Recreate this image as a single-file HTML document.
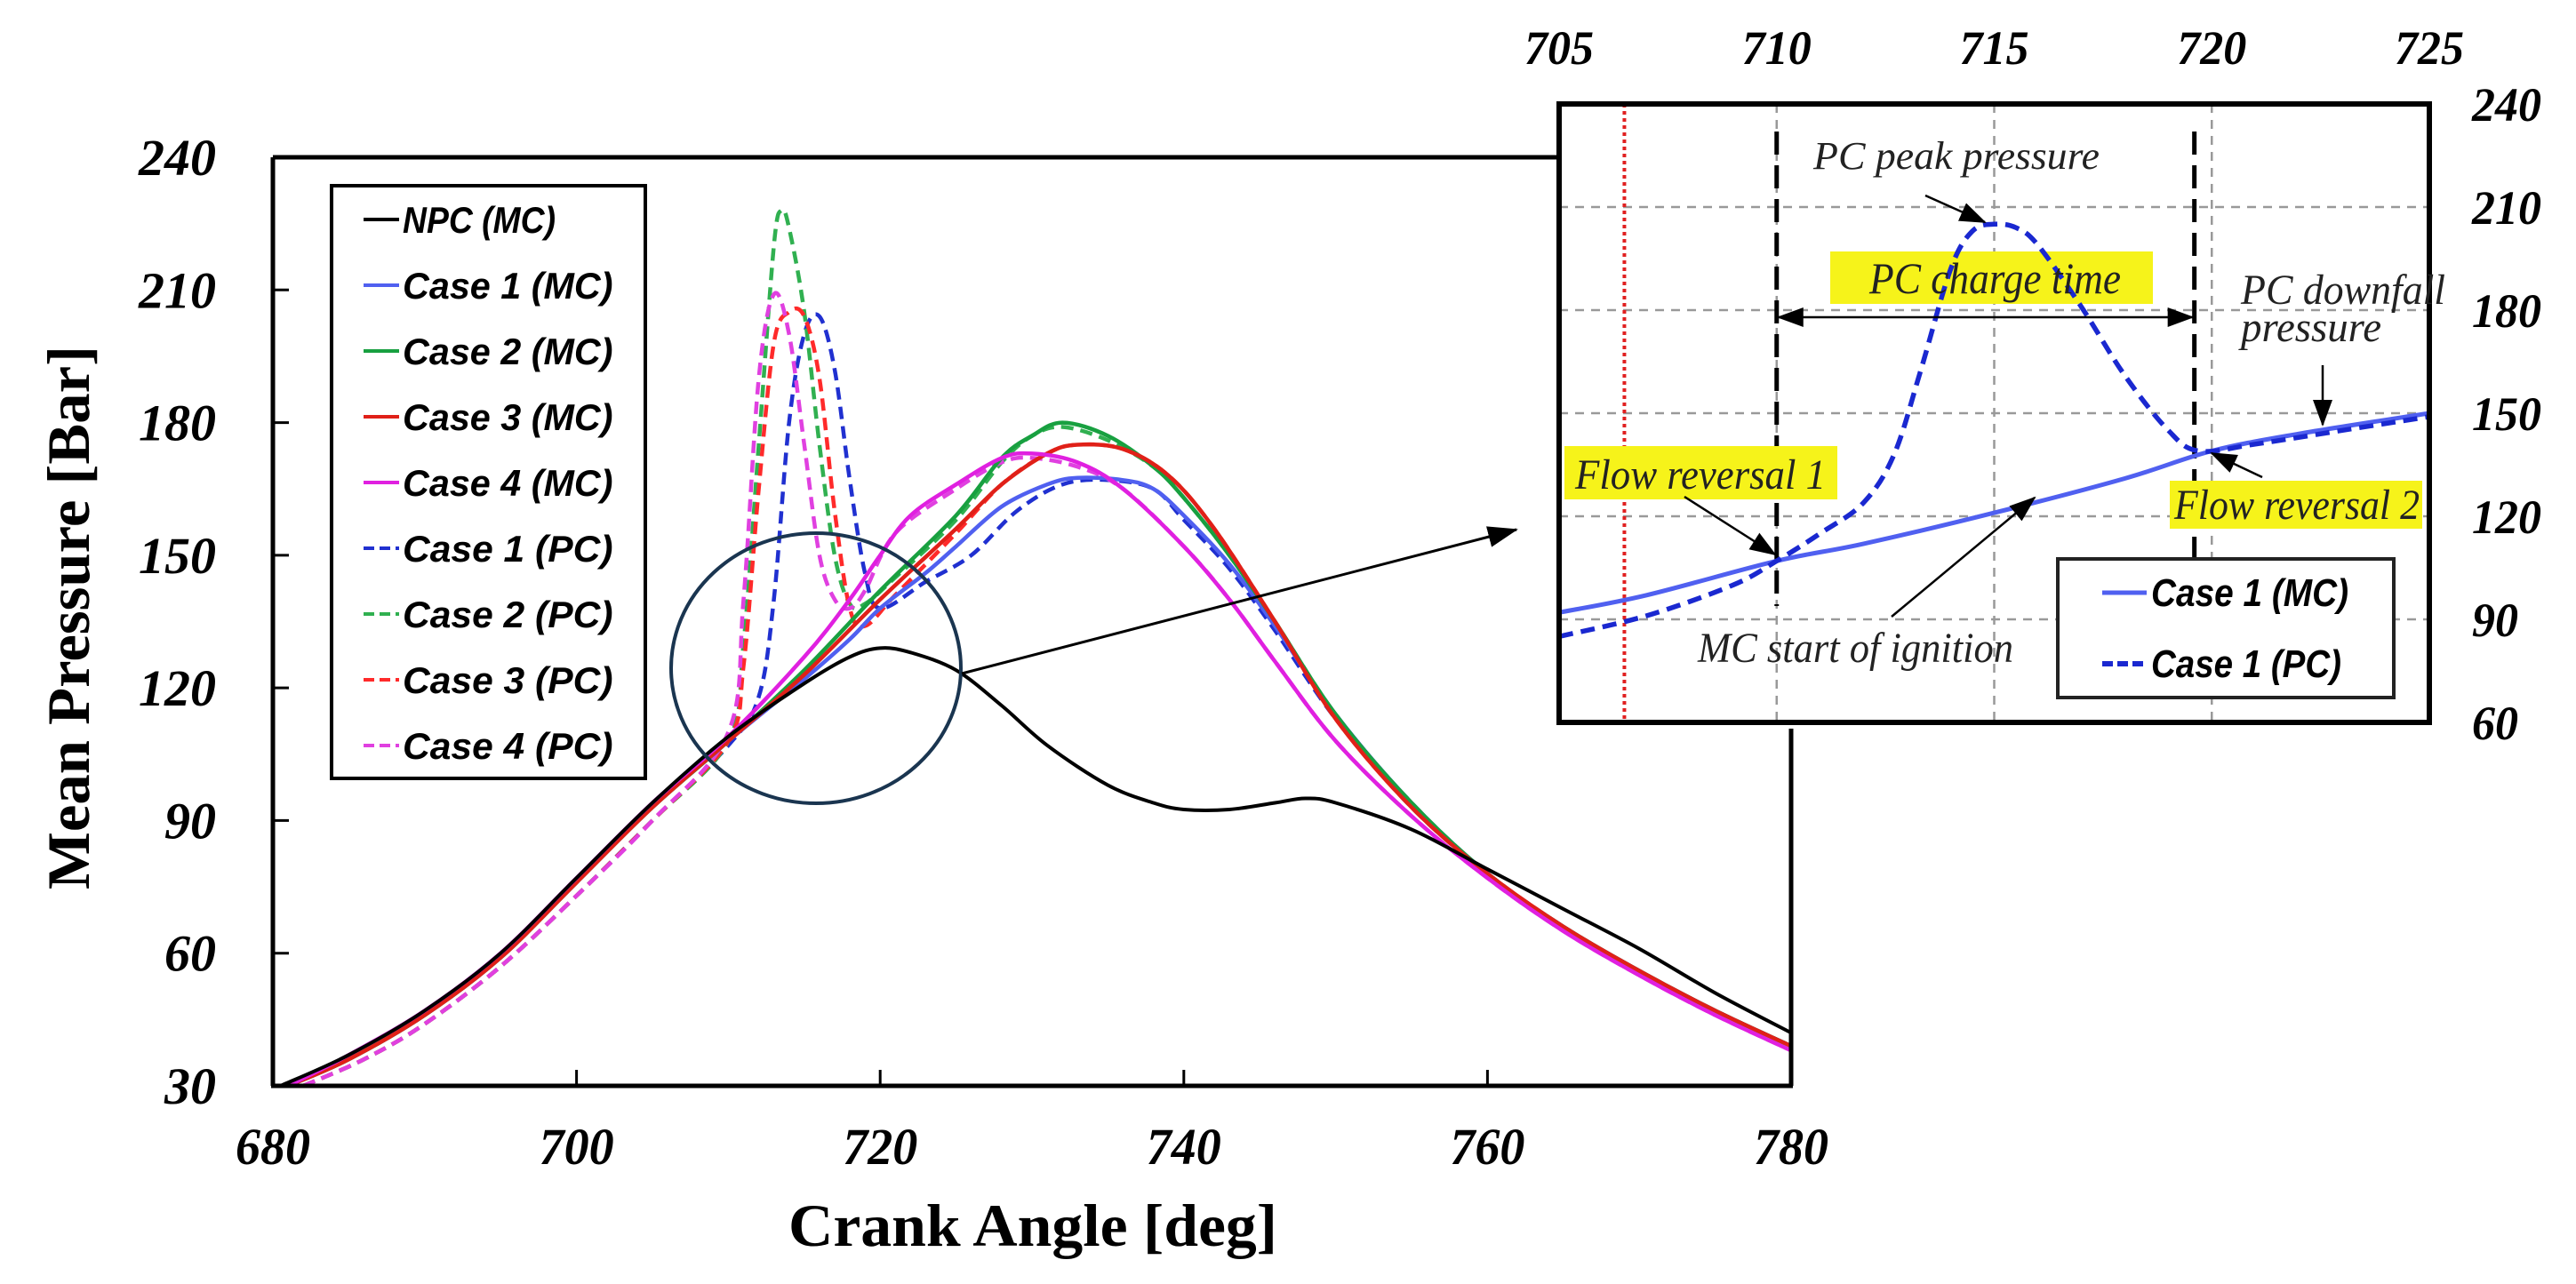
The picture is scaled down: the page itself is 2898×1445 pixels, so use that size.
<!DOCTYPE html>
<html><head><meta charset="utf-8"><title>Mean Pressure vs Crank Angle</title>
<style>
html,body{margin:0;padding:0;background:#fff;}
svg{display:block;}
.tick{font-family:"Liberation Serif",serif;font-weight:bold;font-style:italic;}
.leg{font-family:"Liberation Sans",sans-serif;font-weight:bold;font-style:italic;}
.ann{font-family:"Liberation Serif",serif;font-style:italic;fill:#222;}
</style></head>
<body>
<svg id="chart" width="2898" height="1445" viewBox="0 0 2898 1445" xmlns="http://www.w3.org/2000/svg">
<defs>
<marker id="ah" markerWidth="10" markerHeight="10" refX="9" refY="5" orient="auto" markerUnits="userSpaceOnUse" viewBox="0 0 10 10"><path d="M0,1 L10,5 L0,9 z" fill="#000"/></marker>
<marker id="ahb" markerWidth="34" markerHeight="28" refX="32" refY="14" orient="auto" markerUnits="userSpaceOnUse"><path d="M0,2 L34,14 L0,26 z" fill="#000"/></marker>
<marker id="ahs" markerWidth="30" markerHeight="24" refX="28" refY="12" orient="auto" markerUnits="userSpaceOnUse"><path d="M0,1 L30,12 L0,23 z" fill="#000"/></marker>
<marker id="ahsr" markerWidth="30" markerHeight="24" refX="2" refY="12" orient="auto" markerUnits="userSpaceOnUse"><path d="M30,1 L0,12 L30,23 z" fill="#000"/></marker>
</defs>
<g id="main"></g>
<g id="inset"></g>
</svg>
<script>
// ---------- main chart data ----------
const xTicks = [680, 700, 720, 740, 760, 780];
const yTicks = [30, 60, 90, 120, 150, 180, 210, 240];
const legendLabels = ["NPC (MC)", "Case 1 (MC)", "Case 2 (MC)", "Case 3 (MC)", "Case 4 (MC)", "Case 1 (PC)", "Case 2 (PC)", "Case 3 (PC)", "Case 4 (PC)"];
const seriesColors = ["#000000", "#5060f0", "#18a040", "#e02018", "#e020e0", "#2030d0", "#30b050", "#ff2a2a", "#e040e0"];
const seriesDashed = [false, false, false, false, false, true, true, true, true];

const npcX = [680.5, 685, 690, 695, 700, 705, 710, 715, 718, 720, 722, 725, 728, 731, 735, 738, 740, 743, 746, 748, 750, 755, 760, 765, 770, 775, 780];
const npcY = [30, 37, 47, 60, 77, 94, 109, 121, 127, 129, 128, 124, 116, 107, 98, 94, 92.5, 92.5, 94, 95, 94, 88, 79, 70, 61, 51, 42];

const case1McX = [681, 685, 690, 695, 700, 705, 710, 715, 718, 720, 723, 725, 728, 731, 733, 736, 738, 740, 743, 746, 750, 755, 760, 765, 770, 775, 780];
const case1McY = [30, 36, 46, 59, 76, 93, 108, 122, 131, 138, 146, 152, 161, 166, 167.5, 167, 165, 159, 148, 134, 114, 94, 78, 66, 56, 47, 39];
const case2McX = [681, 685, 690, 695, 700, 705, 710, 715, 720, 725, 728, 730, 732, 735, 738, 740, 743, 746, 750, 755, 760, 765, 770, 775, 780];
const case2McY = [30, 36, 46, 59, 76, 93, 108, 124, 142, 159, 172, 177, 180, 177, 170, 163, 150, 135, 114, 94, 78, 66, 56, 47, 39];
const case3McX = [681, 685, 690, 695, 700, 705, 710, 715, 720, 725, 728, 731, 733, 736, 739, 742, 746, 750, 755, 760, 765, 770, 775, 780];
const case3McY = [30, 36, 46, 59, 76, 93, 108, 123, 140, 156, 166, 173, 175, 174, 168, 156, 135, 113, 93, 78, 66, 56, 47, 39];
const case4McX = [681, 685, 690, 695, 700, 705, 710, 715, 718, 720, 722, 725, 728, 730, 733, 736, 740, 743, 746, 750, 755, 760, 765, 770, 775, 780];
const case4McY = [30, 37, 47, 60, 77, 94, 109, 127, 140, 150, 159, 166, 172, 173, 171, 165, 152, 140, 126, 108, 91, 77, 65, 55, 46, 38];

const case1PcX = [682, 686, 690, 695, 700, 705, 710, 712, 713, 714, 715, 716, 717, 718, 719, 720, 723, 726, 729, 732, 735, 738, 740, 743, 746, 750, 755, 760, 765, 770, 775, 780];
const case1PcY = [30, 36, 44, 57, 73, 90, 107, 118, 140, 180, 200, 204, 192, 167, 146, 138, 144, 150, 160, 166, 167, 165, 158, 147, 133, 113, 93, 78, 66, 56, 47, 39];
const case2PcX = [682, 686, 690, 695, 700, 705, 710, 711, 712, 713, 713.5, 714, 715, 716, 717, 718, 719, 721, 725, 728, 730, 732, 735, 738, 740, 743, 746, 750, 755, 760, 765, 770, 775, 780];
const case2PcY = [30, 36, 44, 57, 73, 90, 108, 130, 175, 220, 228, 224, 205, 175, 150, 139, 139, 145, 158, 171, 177, 179, 176, 170, 163, 150, 135, 114, 94, 78, 66, 56, 47, 39];
const case3PcX = [682, 686, 690, 695, 700, 705, 710, 711, 712, 713, 714, 715, 716, 717, 718, 719, 721, 725, 728, 731, 733, 736, 739, 742, 746, 750, 755, 760, 765, 770, 775, 780];
const case3PcY = [30, 36, 44, 57, 73, 90, 108, 125, 165, 198, 205, 204, 190, 160, 138, 134, 141, 155, 166, 173, 175, 174, 168, 156, 135, 113, 93, 78, 66, 56, 47, 39];
const case4PcX = [682, 686, 690, 695, 700, 705, 710, 711, 712, 713, 714, 715, 716, 717, 718, 719, 721, 725, 728, 730, 733, 736, 740, 743, 746, 750, 755, 760, 765, 770, 775, 780];
const case4PcY = [30, 36, 44, 57, 73, 90, 110, 140, 190, 209, 200, 175, 150, 140, 138, 142, 155, 165, 171, 172, 170, 165, 152, 140, 126, 108, 91, 77, 65, 55, 46, 38];

const seriesX = [npcX, case1McX, case2McX, case3McX, case4McX, case1PcX, case2PcX, case3PcX, case4PcX];
const seriesY = [npcY, case1McY, case2McY, case3McY, case4McY, case1PcY, case2PcY, case3PcY, case4PcY];

// ---------- inset data ----------
const insetXTicks = [705, 710, 715, 720, 725];
const insetYTicks = [60, 90, 120, 150, 180, 210, 240];
const insetGridX = [710, 715, 720];
const insetGridY = [90, 120, 150, 180, 210];
const insetMcX = [705, 707, 710, 712, 715, 718, 720, 722, 725];
const insetMcY = [92, 97, 107, 112, 121, 131, 139, 144, 150];
const insetPcX = [705, 707, 709, 710, 711, 712, 712.7, 713.3, 714, 714.5, 715, 715.5, 716, 717, 718, 719, 719.7, 721, 723, 725];
const insetPcY = [85, 91, 100, 107, 115, 124, 138, 162, 192, 203, 205, 204, 199, 181, 161, 145, 139, 141, 145, 149];
const sparkTiming = 706.5;
const chargeStart = 710;
const chargeEnd = 719.6;

const NS = "http://www.w3.org/2000/svg";
function mk(tag, attrs, parent, txt) {
  const e = document.createElementNS(NS, tag);
  for (const k in attrs) e.setAttribute(k, attrs[k]);
  if (txt !== undefined) e.textContent = txt;
  parent.appendChild(e);
  return e;
}
function smoothPath(pts) {
  let d = "M" + pts[0][0].toFixed(1) + "," + pts[0][1].toFixed(1);
  for (let i = 0; i < pts.length - 1; i++) {
    const p0 = pts[i - 1] || pts[i], p1 = pts[i], p2 = pts[i + 1], p3 = pts[i + 2] || p2;
    const c1x = p1[0] + (p2[0] - p0[0]) / 6, c1y = p1[1] + (p2[1] - p0[1]) / 6;
    const c2x = p2[0] - (p3[0] - p1[0]) / 6, c2y = p2[1] - (p3[1] - p1[1]) / 6;
    d += " C" + c1x.toFixed(1) + "," + c1y.toFixed(1) + " " + c2x.toFixed(1) + "," + c2y.toFixed(1) + " " + p2[0].toFixed(1) + "," + p2[1].toFixed(1);
  }
  return d;
}

// main axes
const PL = 307, PR = 2015, PT = 177, PB = 1222;
const X0 = 680, X1 = 780, Y0 = 30, Y1 = 240;
const sx = v => PL + (v - X0) / (X1 - X0) * (PR - PL);
const sy = v => PB - (v - Y0) / (Y1 - Y0) * (PB - PT);
const main = document.getElementById("main");

// clip
const defs = document.querySelector("defs");
const cp = mk("clipPath", { id: "mainclip" }, defs);
mk("rect", { x: PL, y: PT, width: PR - PL, height: PB - PT }, cp);

const linesG = mk("g", { "clip-path": "url(#mainclip)" }, main);


// draw MC first then PC, keep order similar to picture
const drawOrder = [5, 6, 7, 8, 1, 2, 3, 4, 0];
drawOrder.forEach(i => {
  const pts = seriesX[i].map((x, j) => [sx(x), sy(seriesY[i][j])]);
  const p = mk("path", { d: smoothPath(pts), fill: "none", stroke: seriesColors[i], "stroke-width": i === 0 ? 4 : 4.5, "stroke-linejoin": "round" }, linesG);
  if (seriesDashed[i]) p.setAttribute("stroke-dasharray", "14 8");
  
  
});

// axes frame
const axL = mk("line", { x1: PL, y1: PT, x2: PL, y2: PB, stroke: "#000", "stroke-width": 5 }, main);


const axB = mk("line", { x1: PL - 2, y1: PB, x2: PR + 2, y2: PB, stroke: "#000", "stroke-width": 5 }, main);


const axT = mk("line", { x1: PL, y1: PT, x2: 1760, y2: PT, stroke: "#000", "stroke-width": 5 }, main);


const axR = mk("line", { x1: PR, y1: 820, x2: PR, y2: PB, stroke: "#000", "stroke-width": 5 }, main);



xTicks.forEach(v => {
  if (v !== X0 && v !== X1) {
    const t = mk("line", { x1: sx(v), y1: PB, x2: sx(v), y2: PB - 18, stroke: "#000", "stroke-width": 3 }, main);
    
    
  }
  const l = mk("text", { x: sx(v), y: PB + 88, class: "tick", "font-size": 58, "text-anchor": "middle", textLength: 84, lengthAdjust: "spacingAndGlyphs" }, main, String(v));
  
  
});
yTicks.forEach(v => {
  if (v !== Y0 && v !== Y1) {
    const t = mk("line", { x1: PL, y1: sy(v), x2: PL + 18, y2: sy(v), stroke: "#000", "stroke-width": 3 }, main);
    
    
  }
  const s = String(v);
  const l = mk("text", { x: 243, y: sy(v) + 20, class: "tick", "font-size": 58, "text-anchor": "end", textLength: s.length * 29, lengthAdjust: "spacingAndGlyphs" }, main, s);
  
  
});

const xt = mk("text", { x: 1162, y: 1402, "font-family": "Liberation Serif, serif", "font-weight": "bold", "font-size": 68, "text-anchor": "middle", textLength: 550, lengthAdjust: "spacingAndGlyphs" }, main, "Crank Angle [deg]");


const yt = mk("text", { x: 0, y: 0, transform: "translate(100,695) rotate(-90)", "font-family": "Liberation Serif, serif", "font-weight": "bold", "font-size": 68, "text-anchor": "middle", textLength: 612, lengthAdjust: "spacingAndGlyphs" }, main, "Mean Pressure [Bar]");



// legend
const lg = mk("g", {}, main);


mk("rect", { x: 373, y: 209, width: 353, height: 667, fill: "#fff", stroke: "#000", "stroke-width": 4 }, lg);
legendLabels.forEach((lab, i) => {
  const y = 247 + i * 74;
  const ln = mk("line", { x1: 409, y1: y, x2: 449, y2: y, stroke: seriesColors[i], "stroke-width": 4 }, lg);
  if (seriesDashed[i]) ln.setAttribute("stroke-dasharray", "12 6");
  
  
  const t = mk("text", { x: 453, y: y + 15, class: "leg", "font-size": 42, textLength: lab.length * 21.5, lengthAdjust: "spacingAndGlyphs" }, lg, lab);
  
  
});

// zoom ellipse + arrow
const el = mk("ellipse", { cx: 918, cy: 752, rx: 163, ry: 152, fill: "none", stroke: "#1a3550", "stroke-width": 4 }, main);


const ar = mk("line", { x1: 1082, y1: 758, x2: 1706, y2: 596, stroke: "#000", "stroke-width": 3, "marker-end": "url(#ahb)" }, main);



// ---------- inset ----------
const IL = 1754, IR = 2733, IT = 117, IB = 813;
const IX0 = 705, IX1 = 725, IY0 = 60, IY1 = 240;
const ix = v => IL + (v - IX0) / (IX1 - IX0) * (IR - IL);
const iy = v => IB - (v - IY0) / (IY1 - IY0) * (IB - IT);
const inset = document.getElementById("inset");
const bg = mk("rect", { x: IL, y: IT, width: IR - IL, height: IB - IT, fill: "#fff" }, inset);


insetGridX.forEach(v => {
  const g = mk("line", { x1: ix(v), y1: IT, x2: ix(v), y2: IB, stroke: "#999", "stroke-width": 2.5, "stroke-dasharray": "10 8" }, inset);
  
  
});
insetGridY.forEach(v => {
  const g = mk("line", { x1: IL, y1: iy(v), x2: IR, y2: iy(v), stroke: "#999", "stroke-width": 2.5, "stroke-dasharray": "10 8" }, inset);
  
  
});
const rd = mk("line", { x1: ix(sparkTiming), y1: IT, x2: ix(sparkTiming), y2: IB, stroke: "#e02020", "stroke-width": 4, "stroke-dasharray": "4 4" }, inset);


[chargeStart, chargeEnd].forEach(v => {
  const b = mk("line", { x1: ix(v), y1: 148, x2: ix(v), y2: 682, stroke: "#000", "stroke-width": 5, "stroke-dasharray": "26 12" }, inset);
  
  
});

// yellow boxes
[[2059, 283, 363, 59], [1760, 502, 307, 60], [2441, 541, 284, 54]].forEach(r => {
  const y = mk("rect", { x: r[0], y: r[1], width: r[2], height: r[3], fill: "#f6f31a" }, inset);
  
  
});

const icp = mk("clipPath", { id: "insetclip" }, defs);
mk("rect", { x: IL, y: IT, width: IR - IL, height: IB - IT }, icp);
const ig = mk("g", { "clip-path": "url(#insetclip)" }, inset);
const pm = mk("path", { d: smoothPath(insetMcX.map((x, j) => [ix(x), iy(insetMcY[j])])), fill: "none", stroke: "#5060f0", "stroke-width": 5 }, ig);


const pp = mk("path", { d: smoothPath(insetPcX.map((x, j) => [ix(x), iy(insetPcY[j])])), fill: "none", stroke: "#1a28d0", "stroke-width": 5.5, "stroke-dasharray": "16 9" }, ig);



const fr = mk("rect", { x: IL, y: IT, width: IR - IL, height: IB - IT, fill: "none", stroke: "#000", "stroke-width": 6 }, inset);



insetXTicks.forEach(v => {
  const t = mk("text", { x: ix(v), y: 72, class: "tick", "font-size": 54, "text-anchor": "middle", textLength: 78, lengthAdjust: "spacingAndGlyphs" }, inset, String(v));
  
  
});
insetYTicks.forEach(v => {
  const s = String(v);
  const t = mk("text", { x: 2781, y: iy(v) + 19, class: "tick", "font-size": 54, textLength: s.length * 26, lengthAdjust: "spacingAndGlyphs" }, inset, s);
  
  
});

// annotations
function ann(txt, x, y, w, fs, name) {
  const t = mk("text", { x: x, y: y, class: "ann", "font-size": fs, textLength: w, lengthAdjust: "spacingAndGlyphs" }, inset, txt);
  
  
}
ann("PC peak pressure", 2040, 190, 322, 44, "annotation-peak-pressure");
ann("PC charge time", 2103, 330, 283, 50, "annotation-charge-time");
ann("PC downfall", 2521, 342, 230, 48, "annotation-downfall");
ann("pressure", 2521, 384, 158, 48, "annotation-downfall-pressure");
ann("Flow reversal 1", 1772, 550, 282, 48, "annotation-flow-reversal-1");
ann("Flow reversal 2", 2446, 584, 276, 48, "annotation-flow-reversal-2");
ann("MC start of ignition", 1910, 745, 355, 48, "annotation-mc-ignition");

function arrow(x1, y1, x2, y2, name, m, m2) {
  const a = mk("line", { x1: x1, y1: y1, x2: x2, y2: y2, stroke: "#000", "stroke-width": 2.5, "marker-end": "url(#" + m + ")" }, inset);
  if (m2) a.setAttribute("marker-start", "url(#" + m2 + ")");
  
  
}
arrow(2166, 220, 2233, 250, "arrow-peak", "ahs");
arrow(ix(chargeStart) + 2, 357, ix(chargeEnd) - 2, 357, "arrow-charge-time", "ahs", "ahsr");
arrow(2613, 411, 2613, 478, "arrow-downfall", "ahs");
arrow(1895, 559, 1997, 624, "arrow-flow-reversal-1", "ahs");
arrow(2545, 537, 2488, 510, "arrow-flow-reversal-2", "ahs");
arrow(2128, 694, 2289, 560, "arrow-mc-ignition", "ahs");

// inset legend
const il = mk("g", {}, inset);


mk("rect", { x: 2315, y: 629, width: 378, height: 156, fill: "#fff", stroke: "#222", "stroke-width": 4 }, il);
const l1 = mk("line", { x1: 2365, y1: 667, x2: 2415, y2: 667, stroke: "#5060f0", "stroke-width": 5 }, il);


const l2 = mk("line", { x1: 2365, y1: 747, x2: 2415, y2: 747, stroke: "#1a28d0", "stroke-width": 6, "stroke-dasharray": "12 5" }, il);


const t1 = mk("text", { x: 2420, y: 682, class: "leg", "font-style": "normal", "font-size": 44, textLength: 222, lengthAdjust: "spacingAndGlyphs" }, il, "Case 1 (MC)");


const t2 = mk("text", { x: 2420, y: 762, class: "leg", "font-style": "normal", "font-size": 44, textLength: 214, lengthAdjust: "spacingAndGlyphs" }, il, "Case 1 (PC)");


</script>
</body></html>
